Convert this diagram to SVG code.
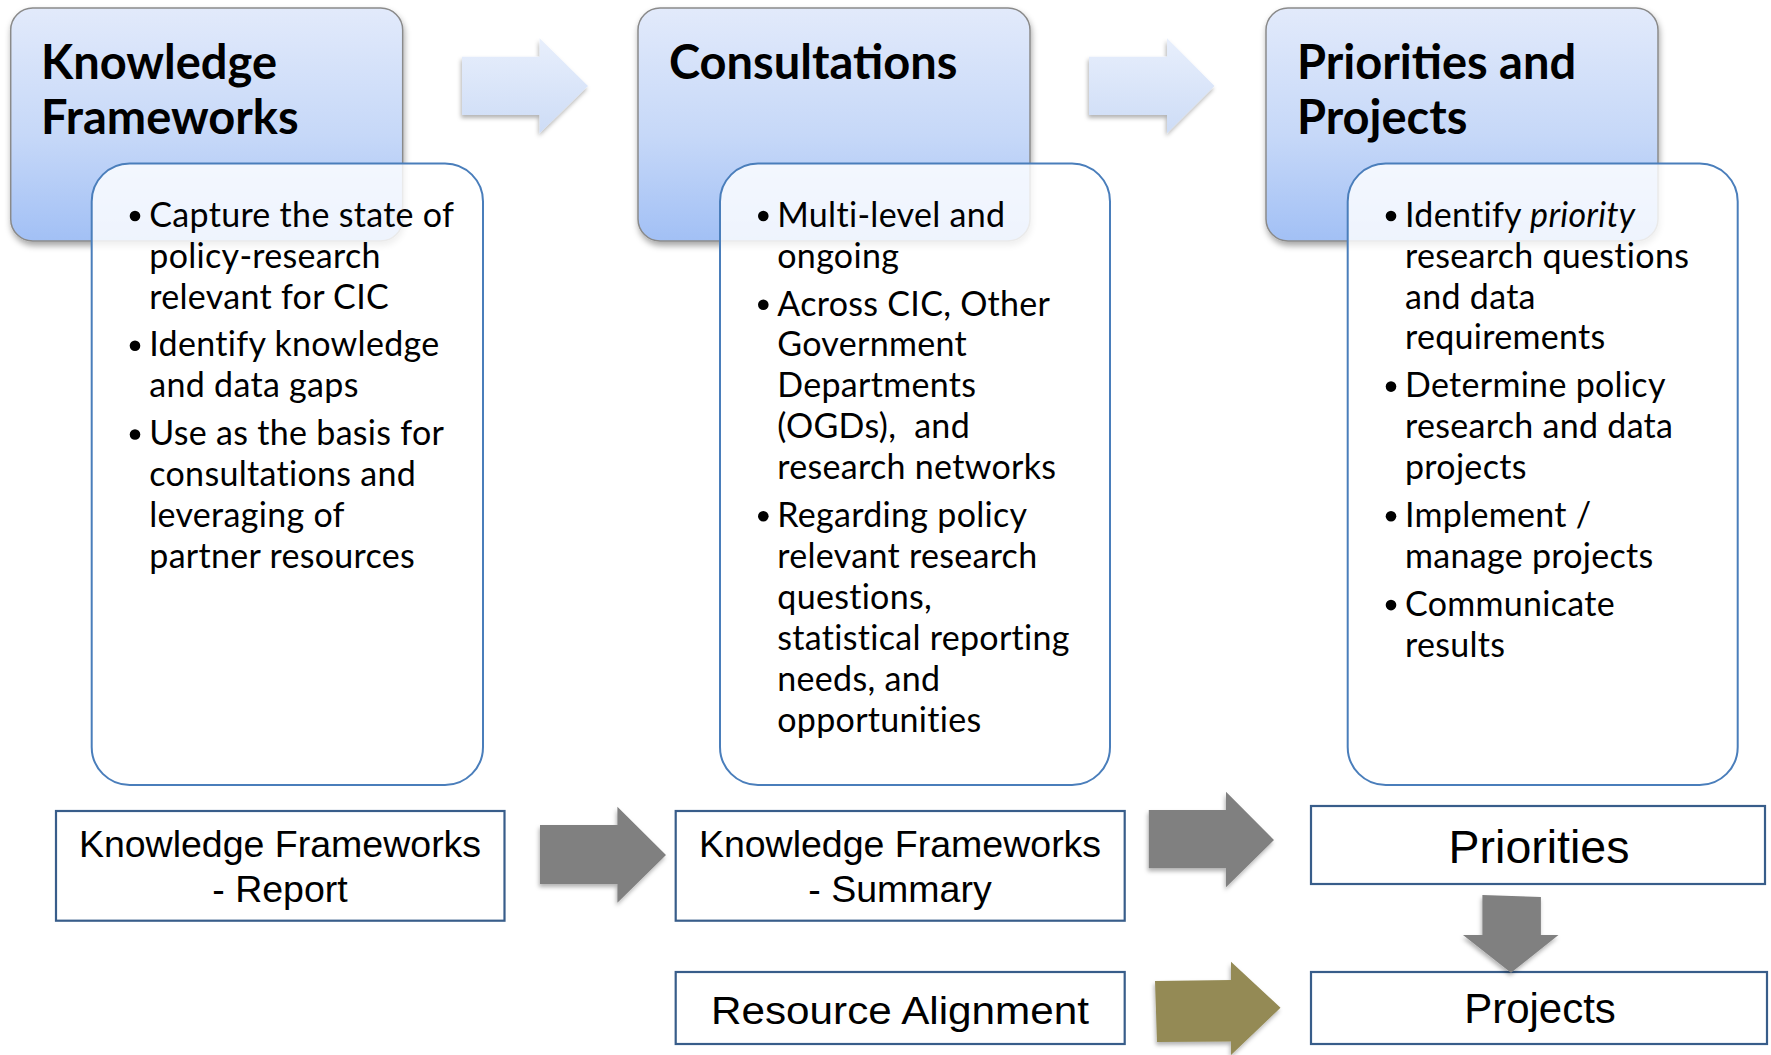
<svg xmlns="http://www.w3.org/2000/svg" width="1771" height="1055" viewBox="0 0 1771 1055">
<defs>
  <linearGradient id="hdrGrad" x1="0" y1="0" x2="0" y2="1">
    <stop offset="0" stop-color="#e2eafb"/>
    <stop offset="0.55" stop-color="#c6d8f8"/>
    <stop offset="1" stop-color="#a2c0f5"/>
  </linearGradient>
  <linearGradient id="lightArrowGrad" x1="0" y1="0" x2="0" y2="1">
    <stop offset="0" stop-color="#e8effc"/>
    <stop offset="1" stop-color="#cddcf6"/>
  </linearGradient>
  <filter id="shadow" x="-10%" y="-10%" width="125%" height="130%">
    <feDropShadow dx="1" dy="4" stdDeviation="3" flood-color="#000" flood-opacity="0.35"/>
  </filter>
  <filter id="arrowShadow" x="-10%" y="-10%" width="125%" height="130%">
    <feDropShadow dx="-1" dy="3" stdDeviation="2" flood-color="#000" flood-opacity="0.3"/>
  </filter>
</defs>
<style>
  .hdr { fill: url(#hdrGrad); stroke: #8a8a8a; stroke-width: 1.5; filter: url(#shadow); }
  .body { fill: #ffffff; fill-opacity: 0.82; stroke: #4a7ebb; stroke-width: 2; }
  .out { fill: #ffffff; stroke: #385d8a; stroke-width: 2.2; }
  .htxt { font-family: Lato, "Open Sans", sans-serif; font-weight: bold; font-size: 47px; fill: #000; }
  .btxt { font-family: Lato, "Open Sans", sans-serif; font-size: 34px; letter-spacing: 0.3px; fill: #000; }
  .otxt { font-family: "Liberation Sans", Arial, sans-serif; fill: #000; text-anchor: middle; }
  .lightArrow { fill: url(#lightArrowGrad); filter: url(#arrowShadow); }
  .grayArrow { fill: #808080; filter: url(#arrowShadow); }
  .oliveArrow { fill: #948a54; filter: url(#arrowShadow); }
</style>

<g id="node-knowledge-frameworks">
  <rect class="hdr" x="10.7" y="8" width="392" height="233" rx="22"/>
  <text class="htxt" x="41" y="79">Knowledge</text>
  <text class="htxt" x="41" y="134">Frameworks</text>
  <rect class="body" x="91.7" y="163.5" width="391.3" height="621.5" rx="38"/>
  <g class="btxt">
    <circle cx="135" cy="216" r="5.3"/>
    <text x="149.3" y="226.7">Capture the state of</text>
    <text x="149.3" y="267.6">policy-research</text>
    <text x="149.3" y="308.5">relevant for CIC</text>
    <circle cx="135" cy="345.7" r="5.3"/>
    <text x="149.3" y="356.4">Identify knowledge</text>
    <text x="149.3" y="397.3">and data gaps</text>
    <circle cx="135" cy="434.5" r="5.3"/>
    <text x="149.3" y="445.2">Use as the basis for</text>
    <text x="149.3" y="486.1">consultations and</text>
    <text x="149.3" y="527">leveraging of</text>
    <text x="149.3" y="567.9">partner resources</text>
  </g>
</g>

<g id="node-consultations">
  <rect class="hdr" x="638" y="8" width="392" height="233" rx="22"/>
  <text class="htxt" x="669" y="79">Consultations</text>
  <rect class="body" x="720" y="163.5" width="390" height="621.5" rx="38"/>
  <g class="btxt">
    <circle cx="763.3" cy="216" r="5.3"/>
    <text x="777.3" y="226.7">Multi-level and</text>
    <text x="777.3" y="267.6">ongoing</text>
    <circle cx="763.3" cy="304.8" r="5.3"/>
    <text x="777.3" y="315.5">Across CIC, Other</text>
    <text x="777.3" y="356.4">Government</text>
    <text x="777.3" y="397.3">Departments</text>
    <text x="777.3" y="438.2" xml:space="preserve">(OGDs),  and</text>
    <text x="777.3" y="479.1">research networks</text>
    <circle cx="763.3" cy="516.3" r="5.3"/>
    <text x="777.3" y="527">Regarding policy</text>
    <text x="777.3" y="567.9">relevant research</text>
    <text x="777.3" y="608.8">questions,</text>
    <text x="777.3" y="649.7">statistical reporting</text>
    <text x="777.3" y="690.6">needs, and</text>
    <text x="777.3" y="731.5">opportunities</text>
  </g>
</g>

<g id="node-priorities-projects">
  <rect class="hdr" x="1266" y="8" width="392" height="233" rx="22"/>
  <text class="htxt" x="1297" y="79">Priorities and</text>
  <text class="htxt" x="1297" y="134">Projects</text>
  <rect class="body" x="1347.7" y="163.5" width="390" height="621.5" rx="38"/>
  <g class="btxt">
    <circle cx="1391" cy="216" r="5.3"/>
    <text x="1405" y="226.7">Identify <tspan font-style="italic">priority</tspan></text>
    <text x="1405" y="267.6">research questions</text>
    <text x="1405" y="308.5">and data</text>
    <text x="1405" y="349.4">requirements</text>
    <circle cx="1391" cy="386.6" r="5.3"/>
    <text x="1405" y="397.3">Determine policy</text>
    <text x="1405" y="438.2">research and data</text>
    <text x="1405" y="479.1">projects</text>
    <circle cx="1391" cy="516.3" r="5.3"/>
    <text x="1405" y="527">Implement /</text>
    <text x="1405" y="567.9">manage projects</text>
    <circle cx="1391" cy="605.1" r="5.3"/>
    <text x="1405" y="615.8">Communicate</text>
    <text x="1405" y="656.7">results</text>
  </g>
</g>

<g id="node-kf-report">
  <rect class="out" x="56" y="811" width="448.5" height="109.7"/>
  <text class="otxt" x="280" y="857.3" font-size="37.5">Knowledge Frameworks</text>
  <text class="otxt" x="280" y="901.7" font-size="37.5">- Report</text>
</g>

<g id="node-kf-summary">
  <rect class="out" x="675.7" y="811" width="449" height="109.7"/>
  <text class="otxt" x="900" y="857.3" font-size="37.5">Knowledge Frameworks</text>
  <text class="otxt" x="900" y="901.7" font-size="37.5">- Summary</text>
</g>

<g id="node-resource-alignment">
  <rect class="out" x="675.7" y="972" width="449" height="72"/>
  <text class="otxt" x="900" y="1024" font-size="38" textLength="378" lengthAdjust="spacingAndGlyphs">Resource Alignment</text>
</g>

<g id="node-priorities">
  <rect class="out" x="1311" y="806" width="454" height="78"/>
  <text class="otxt" x="1539" y="862.7" font-size="46.5">Priorities</text>
</g>

<g id="node-projects">
  <rect class="out" x="1311" y="972" width="456" height="72"/>
  <text class="otxt" x="1540" y="1023.3" font-size="42">Projects</text>
</g>

<g id="connectors">
  <polygon class="lightArrow" points="462,56.7 539.6,56.7 539.6,38.3 588,86 539.6,133.3 539.6,115 462,115"/>
  <polygon class="lightArrow" points="1089,56.7 1167,56.7 1167,38.3 1214.5,86 1167,133.3 1167,115 1089,115"/>
  <polygon class="grayArrow" points="540,825 617.4,825 617.4,806.7 666,855 617.4,902.7 617.4,884 540,884"/>
  <polygon class="grayArrow" points="1148.8,810 1226,810 1226,791.7 1274,840 1226,887.3 1226,868.3 1148.8,868.3"/>
  <polygon class="oliveArrow" points="1155,981 1231,980 1231,961.7 1280.5,1007.7 1231,1055 1231,1041.5 1157,1042"/>
  <polygon class="grayArrow" points="1482.4,895 1540.9,897 1540.9,935 1558.5,935 1511,972.7 1463,935 1482.4,935"/>
</g>
</svg>
